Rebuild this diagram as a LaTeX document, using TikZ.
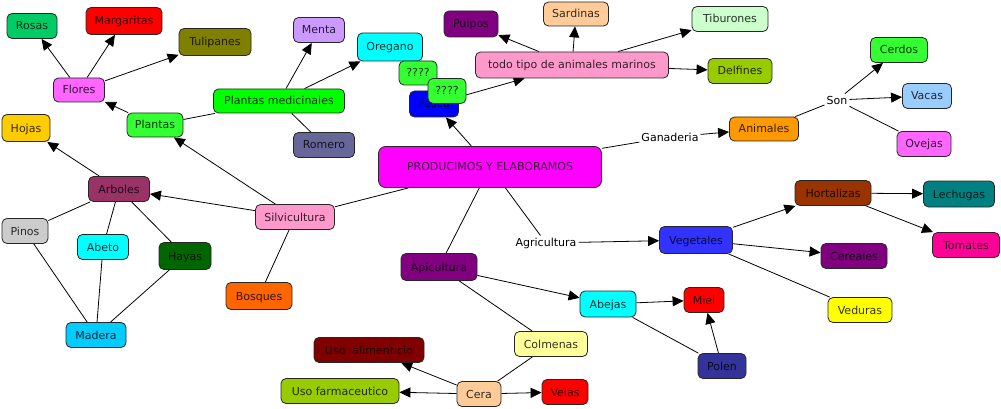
\documentclass[tikz,border=0pt]{standalone}
\usepackage{fontspec}
\setmainfont{DejaVu Sans}
\usetikzlibrary{arrows.meta}
\pgfdeclarelayer{back}
\pgfdeclarelayer{bg}
\pgfsetlayers{back,bg,main}
\definecolor{cRosas}{HTML}{00CC66}
\definecolor{cRed}{HTML}{FF0000}
\definecolor{cOlive}{HTML}{808000}
\definecolor{cPink}{HTML}{FF66FF}
\definecolor{cLime}{HTML}{33FF33}
\definecolor{cGreen}{HTML}{00FF00}
\definecolor{cLav}{HTML}{CC99FF}
\definecolor{cSlate}{HTML}{666699}
\definecolor{cGold}{HTML}{FFCC00}
\definecolor{cCyan}{HTML}{00FFFF}
\definecolor{cBlue}{HTML}{0000FF}
\definecolor{cPurple}{HTML}{800080}
\definecolor{cPeach}{HTML}{FFCC99}
\definecolor{cRose}{HTML}{FF99CC}
\definecolor{cMint}{HTML}{CCFFCC}
\definecolor{cYGreen}{HTML}{99CC00}
\definecolor{cSky}{HTML}{99CCFF}
\definecolor{cOrange}{HTML}{FF9900}
\definecolor{cMagenta}{HTML}{FF00FF}
\definecolor{cWine}{HTML}{993366}
\definecolor{cGrey}{HTML}{CCCCCC}
\definecolor{cDGreen}{HTML}{006600}
\definecolor{cOrRed}{HTML}{FF6600}
\definecolor{cAzure}{HTML}{00CCFF}
\definecolor{cNavy}{HTML}{333399}
\definecolor{cLYellow}{HTML}{FFFF99}
\definecolor{cMaroon}{HTML}{800000}
\definecolor{cRoyal}{HTML}{3333FF}
\definecolor{cBrown}{HTML}{993300}
\definecolor{cTeal}{HTML}{008080}
\definecolor{cHot}{HTML}{FF0099}
\definecolor{cYellow}{HTML}{FFFF00}
\begin{document}
\begin{tikzpicture}[x=1pt,y=-1pt,
  cbox/.style={draw=black!85, line width=0.8pt, rounded corners=5pt,
    minimum height=25pt, inner sep=1pt, text height=8pt, text depth=0pt,
    font=\fontsize{11}{13}\selectfont, text=black, text opacity=0.8},
  lab/.style={inner sep=2pt, font=\fontsize{11}{13}\selectfont, text=black},
  conn/.style={draw=black, line width=0.8pt},
  arr/.style={conn, -{Triangle[length=11pt,width=10pt]}}]
\useasboundingbox (0,0) rectangle (1001,409);
\begin{pgfonlayer}{back}
\fill[white] (0,0) rectangle (1001,409);
\end{pgfonlayer}
% nodes
\node[cbox, fill=cRosas, minimum width=50pt] (rosas) at (32,26) {Rosas};
\node[cbox, fill=cRed, minimum width=76pt, minimum height=27pt] (marg) at (124,21) {Margaritas};
\node[cbox, fill=cOlive, minimum width=72pt, minimum height=27pt] (tuli) at (215,42) {Tulipanes};
\node[cbox, fill=cPink, minimum width=51pt, minimum height=24pt] (flores) at (79,90) {Flores};
\node[cbox, fill=cLime, minimum width=56pt, minimum height=24pt] (plantas) at (155,125) {Plantas};
\node[cbox, fill=cGreen, minimum width=131pt, minimum height=24pt] (pmed) at (279,101) {Plantas medicinales};
\node[cbox, fill=cLav, minimum width=51pt] (menta) at (319,30) {Menta};
\node[cbox, fill=cSlate, minimum width=61pt] (romero) at (324,145) {Romero};
\node[cbox, fill=cGold, minimum width=48pt, minimum height=27pt] (hojas) at (26,128) {Hojas};
\node[cbox, fill=cCyan, minimum width=65pt, minimum height=28pt] (oregano) at (390,47) {Oregano};
\node[cbox, fill=cBlue, minimum width=49pt, minimum height=26pt] (pesca) at (434,104) {Pesca};
\node[cbox, fill=cLime, minimum width=38pt, minimum height=24pt] (qa) at (418,73) {????};
\node[cbox, fill=cLime, minimum width=38pt] (qb) at (447,91) {????};
\node[cbox, fill=cPurple, minimum width=54pt, minimum height=26pt] (pulpos) at (471,24) {Pulpos};
\node[cbox, fill=cPeach, minimum width=65pt, minimum height=24pt] (sardinas) at (576,14) {Sardinas};
\node[cbox, fill=cRose, minimum width=193pt, minimum height=26pt] (todo) at (572,65) {todo tipo de animales marinos};
\node[cbox, fill=cMint, minimum width=76pt] (tibur) at (730,19) {Tiburones};
\node[cbox, fill=cYGreen, minimum width=64pt] (delf) at (740,71) {Delfines};
\node[cbox, fill=cLime, minimum width=57pt] (cerdos) at (899,50) {Cerdos};
\node[cbox, fill=cSky, minimum width=49pt] (vacas) at (927,96) {Vacas};
\node[cbox, fill=cPink, minimum width=54pt] (ovejas) at (924,144) {Ovejas};
\node[cbox, fill=cOrange, minimum width=69pt, minimum height=24pt] (animales) at (764,129) {Animales};
\node[cbox, fill=cMagenta, minimum width=223pt, minimum height=41pt, rounded corners=7pt] (prod) at (490,167) {PRODUCIMOS Y ELABORAMOS};
\node[cbox, fill=cWine, minimum width=61pt] (arboles) at (119,189) {Arboles};
\node[cbox, fill=cGrey, minimum width=46pt] (pinos) at (25,231) {Pinos};
\node[cbox, fill=cCyan, minimum width=51pt] (abeto) at (103,247) {Abeto};
\node[cbox, fill=cDGreen, minimum width=52pt, minimum height=27pt] (hayas) at (185,256) {Hayas};
\node[cbox, fill=cRose, minimum width=79pt] (silvi) at (295,217) {Silvicultura};
\node[cbox, fill=cOrRed, minimum width=66pt, minimum height=27pt] (bosques) at (259,296) {Bosques};
\node[cbox, fill=cAzure, minimum width=60pt] (madera) at (96,335) {Madera};
\node[cbox, fill=cPurple, minimum width=76pt, minimum height=27pt] (apic) at (439,267) {Apicultura};
\node[cbox, fill=cCyan, minimum width=56pt, minimum height=26pt] (abejas) at (608,304) {Abejas};
\node[cbox, fill=cRed, minimum width=40pt] (miel) at (704,300) {Miel};
\node[cbox, fill=cNavy, minimum width=48pt] (polen) at (722,366) {Polen};
\node[cbox, fill=cLYellow, minimum width=73pt] (colm) at (551,344) {Colmenas};
\node[cbox, fill=cMaroon, minimum width=110pt] (usoal) at (369,350) {Uso~ alimenticio};
\node[cbox, fill=cYGreen, minimum width=118pt] (usofa) at (340,391) {Uso farmaceutico};
\node[cbox, fill=cPeach, minimum width=44pt] (cera) at (479,394) {Cera};
\node[cbox, fill=cRed, minimum width=46pt] (velas) at (565,392) {Velas};
\node[cbox, fill=cRoyal, minimum width=73pt, minimum height=27pt] (veget) at (696,240) {Vegetales};
\node[cbox, fill=cBrown, minimum width=76pt] (hort) at (833,193) {Hortalizas};
\node[cbox, fill=cTeal, minimum width=71pt, minimum height=26pt] (lech) at (959,194) {Lechugas};
\node[cbox, fill=cHot, minimum width=67pt] (tom) at (966,245) {Tomates};
\node[cbox, fill=cPurple, minimum width=66pt] (cer) at (854,256) {Cereales};
\node[cbox, fill=cYellow, minimum width=64pt] (ved) at (860,310) {Veduras};
% linking labels
\node[lab] (ganad) at (670,137) {Ganaderia};
\node[lab] (son) at (837,100) {Son};
\node[lab] (agri) at (546,243) {Agricultura};
% connectors
\begin{pgfonlayer}{bg}
\draw[conn] (prod) -- (silvi);
\draw[arr] (silvi) -- (arboles);
\draw[arr] (silvi) -- (plantas);
\draw[conn] (silvi) -- (bosques);
\draw[arr] (arboles) -- (hojas);
\draw[conn] (arboles) -- (pinos);
\draw[conn] (arboles) -- (abeto);
\draw[conn] (arboles) -- (hayas);
\draw[conn] (pinos) -- (madera);
\draw[conn] (abeto) -- (madera);
\draw[conn] (hayas) -- (madera);
\draw[arr] (plantas) -- (flores);
\draw[conn] (plantas) -- (pmed);
\draw[arr] (flores) -- (rosas);
\draw[arr] (flores) -- (marg);
\draw[arr] (flores) -- (tuli);
\draw[arr] (pmed) -- (menta);
\draw[arr] (pmed) -- (oregano);
\draw[conn] (pmed) -- (romero);
\draw[arr] (prod) -- (pesca);
\draw[arr] (pesca) -- (todo);
\draw[arr] (todo) -- (pulpos);
\draw[arr] (todo) -- (sardinas);
\draw[arr] (todo) -- (tibur);
\draw[arr] (todo) -- (delf);
\draw[conn] (prod) -- (ganad);
\draw[arr] (ganad) -- (animales);
\draw[conn] (animales) -- (son);
\draw[arr] (son) -- (cerdos);
\draw[arr] (son) -- (vacas);
\draw[conn] (son) -- (ovejas);
\draw[conn] (prod) -- (agri);
\draw[arr] (agri) -- (veget);
\draw[arr] (veget) -- (hort);
\draw[arr] (veget) -- (cer);
\draw[conn] (veget) -- (ved);
\draw[arr] (hort) -- (lech);
\draw[arr] (hort) -- (tom);
\draw[conn] (prod) -- (apic);
\draw[arr] (apic) -- (abejas);
\draw[conn] (apic) -- (colm);
\draw[arr] (abejas) -- (miel);
\draw[conn] (abejas) -- (polen);
\draw[arr] (polen) -- (miel);
\draw[conn] (colm) -- (cera);
\draw[arr] (cera) -- (usoal);
\draw[arr] (cera) -- (usofa);
\draw[arr] (cera) -- (velas);
\end{pgfonlayer}
\end{tikzpicture}
\end{document}
